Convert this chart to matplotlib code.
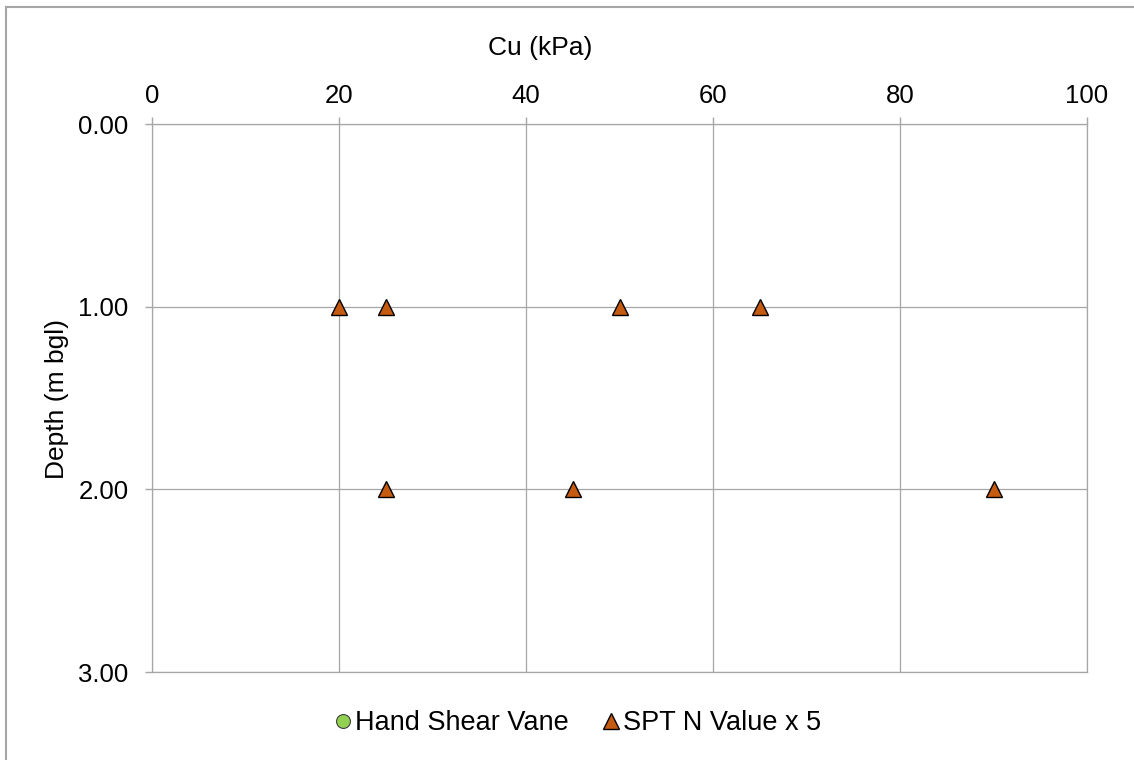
import matplotlib
matplotlib.use("Agg")
import matplotlib.pyplot as plt
from matplotlib.lines import Line2D

plt.rcParams['font.family'] = ['Liberation Sans', 'DejaVu Sans']

# data
vane_cu = []
vane_depth = []
spt_cu = [20, 25, 50, 65, 25, 45, 90]
spt_depth = [1.0, 1.0, 1.0, 1.0, 2.0, 2.0, 2.0]

x_ticks = [0, 20, 40, 60, 80, 100]
y_ticks = [0.0, 1.0, 2.0, 3.0]

grey = "#A6A6A6"

fig = plt.figure(figsize=(11.34, 7.6), dpi=100)
W, H = 1134, 760
ax = fig.add_axes([152 / W, 1 - 672 / H, (1087 - 152) / W, (672 - 124) / H])

ax.plot(vane_cu, vane_depth, linestyle="none", marker="o", markersize=10,
        markerfacecolor="#92D050", markeredgecolor="#404040", markeredgewidth=0.8,
        label="Hand Shear Vane")
ax.plot(spt_cu, spt_depth, linestyle="none", marker="^", markersize=12,
        markerfacecolor="#C55A11", markeredgecolor="black", markeredgewidth=1.0,
        label="SPT N Value x 5", zorder=3)

ax.set_xlim(0, 100)
ax.set_ylim(3, 0)
ax.set_xticks(x_ticks)
ax.set_yticks(y_ticks)
ax.set_yticklabels([f"{v:.2f}" for v in y_ticks])
ax.xaxis.tick_top()
ax.tick_params(axis="both", labelsize=18.5, color=grey, length=5, width=1.0,
               direction="out", labelcolor="black")
ax.tick_params(axis="x", pad=6.5)
ax.tick_params(axis="y", pad=12)
ax.grid(True, color=grey, linewidth=0.9)
ax.set_axisbelow(True)
for s in ax.spines.values():
    s.set_color(grey)
    s.set_linewidth(0.9)

# axis titles placed where the original has them
fig.text(540 / W, 1 - 48 / H, "Cu (kPa)", fontsize=19, ha="center", va="center")
fig.text(57 / W, 1 - 399 / H, "Depth (m bgl)", fontsize=19, ha="center", va="center",
         rotation=90)

fig.legend(loc="center", bbox_to_anchor=(577 / W, 1 - 723 / H), ncol=2,
           frameon=False, fontsize=19.5, handletextpad=0.1, columnspacing=1.2,
           handlelength=0.7, borderaxespad=0)

# outer chart border (only left and top show in the image)
fig.add_artist(Line2D([5.5 / W, 5.5 / W], [0, 1 - 7 / H], transform=fig.transFigure,
                      color=grey, linewidth=1.5))
fig.add_artist(Line2D([5.5 / W, 1], [1 - 7 / H, 1 - 7 / H], transform=fig.transFigure,
                      color=grey, linewidth=1.5))

fig.savefig("out.png", dpi=100)
